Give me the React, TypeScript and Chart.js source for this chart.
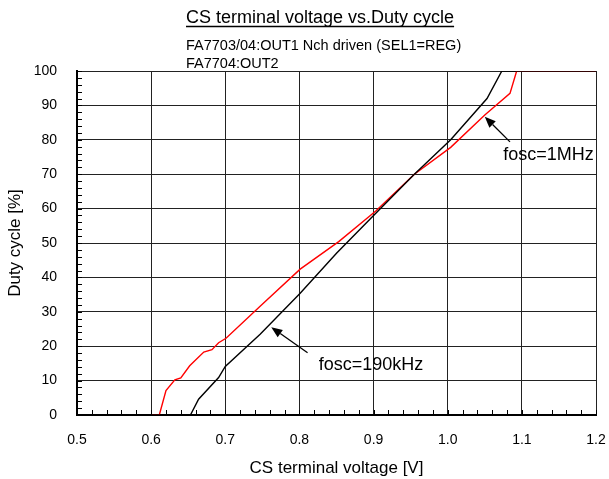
import React, { useEffect, useRef } from 'react';
import { Chart, registerables } from 'chart.js';

Chart.register(...registerables);

// ---- Data ----
const voltage1MHz = [0.6, 0.611, 0.62, 0.632, 0.64, 0.652, 0.671, 0.682, 0.691, 0.701, 0.747, 0.801, 0.853, 0.903, 0.955, 1.004, 1.05, 1.084, 1.093, 1.2];
const duty1MHz = [0, 0, 7.1, 10.2, 10.8, 14.3, 18.3, 19.0, 21.0, 22.3, 31.6, 42.4, 50.4, 59.3, 70.0, 77.8, 87.2, 93.5, 100, 100];

const voltage190kHz = [0.6, 0.653, 0.664, 0.691, 0.7, 0.747, 0.801, 0.85, 0.9, 0.955, 1.004, 1.053, 1.073, 1.2];
const duty190kHz = [0, 0, 4.6, 10.9, 14.1, 23.5, 35.4, 47.0, 58.0, 70.0, 80.0, 92.0, 100, 100];

const xTickLabels = ['0.5', '0.6', '0.7', '0.8', '0.9', '1.0', '1.1', '1.2'];
const yTickLabels = ['0', '10', '20', '30', '40', '50', '60', '70', '80', '90', '100'];

const titleText = 'CS terminal voltage vs.Duty cycle';
const subtitleLines = ['FA7703/04:OUT1 Nch driven (SEL1=REG)', 'FA7704:OUT2'];
const xAxisTitle = 'CS terminal voltage [V]';
const yAxisTitle = 'Duty cycle [%]';

// Annotations in data coordinates: label, text position, arrow tail, arrow tip
const annotLabels = ['fosc=1MHz', 'fosc=190kHz'];
const annotTextAt = [[1.075, 74.1], [0.826, 13.1]];
const annotArrowFrom = [[1.084, 79.4], [0.811, 18.1]];
const annotArrowTo = [[1.05, 86.7], [0.762, 25.5]];

const FONT = '"Liberation Sans", Arial, Helvetica, sans-serif';

export default function App() {
  const ref = useRef<HTMLCanvasElement>(null);

  useEffect(() => {
    if (!ref.current) return;

    const overlay = {
      id: 'overlay',
      afterDraw(chart: any) {
        const { ctx, chartArea } = chart;
        const xs = chart.scales.x;
        const ys = chart.scales.y;
        ctx.save();

        // inward minor/major ticks
        ctx.strokeStyle = '#000';
        ctx.lineWidth = 1;
        ctx.beginPath();
        for (let i = 0; i <= 35; i++) {
          const px = Math.round(xs.getPixelForValue(0.5 + i * 0.02)) + 0.5;
          ctx.moveTo(px, chartArea.bottom);
          ctx.lineTo(px, chartArea.bottom - 5);
        }
        for (let i = 0; i <= 50; i++) {
          const py = Math.round(ys.getPixelForValue(i * 2)) + 0.5;
          ctx.moveTo(chartArea.left, py);
          ctx.lineTo(chartArea.left + 5, py);
        }
        ctx.stroke();

        // Title + underline
        ctx.fillStyle = '#000';
        ctx.textAlign = 'left';
        ctx.textBaseline = 'alphabetic';
        ctx.font = `18px ${FONT}`;
        ctx.fillText(titleText, 186, 22.5);
        const tw = ctx.measureText(titleText).width;
        ctx.lineWidth = 1.5;
        ctx.beginPath();
        ctx.moveTo(186, 26.5);
        ctx.lineTo(186 + tw, 26.5);
        ctx.stroke();

        ctx.font = `14.5px ${FONT}`;
        ctx.fillText(subtitleLines[0], 186, 49.5);
        ctx.fillText(subtitleLines[1], 186, 68);

        // Annotations
        ctx.font = `18px ${FONT}`;
        for (let i = 0; i < annotLabels.length; i++) {
          const tx = xs.getPixelForValue(annotTextAt[i][0]);
          const ty = ys.getPixelForValue(annotTextAt[i][1]);
          ctx.fillText(annotLabels[i], tx, ty);

          const x0 = xs.getPixelForValue(annotArrowFrom[i][0]);
          const y0 = ys.getPixelForValue(annotArrowFrom[i][1]);
          const x1 = xs.getPixelForValue(annotArrowTo[i][0]);
          const y1 = ys.getPixelForValue(annotArrowTo[i][1]);
          const ang = Math.atan2(y1 - y0, x1 - x0);
          const hl = 11, hw = 4.5;
          const bx = x1 - hl * Math.cos(ang);
          const by = y1 - hl * Math.sin(ang);
          ctx.lineWidth = 1.3;
          ctx.beginPath();
          ctx.moveTo(x0, y0);
          ctx.lineTo(bx, by);
          ctx.stroke();
          ctx.beginPath();
          ctx.moveTo(x1, y1);
          ctx.lineTo(bx + hw * Math.sin(ang), by - hw * Math.cos(ang));
          ctx.lineTo(bx - hw * Math.sin(ang), by + hw * Math.cos(ang));
          ctx.closePath();
          ctx.fill();
        }
        ctx.restore();
      },
    };

    const chart = new Chart(ref.current, {
      type: 'line',
      data: {
        datasets: [
          {
            label: 'fosc=190kHz',
            data: voltage190kHz.map((v, i) => ({ x: v, y: duty190kHz[i] })),
            borderColor: '#000000',
            borderWidth: 1.4,
            pointRadius: 0,
            tension: 0,
            fill: false,
          },
          {
            label: 'fosc=1MHz',
            data: voltage1MHz.map((v, i) => ({ x: v, y: duty1MHz[i] })),
            borderColor: '#ff0000',
            borderWidth: 1.4,
            pointRadius: 0,
            tension: 0,
            fill: false,
          },
        ],
      },
      options: {
        animation: false,
        responsive: false,
        maintainAspectRatio: false,
        layout: { padding: { top: 71, right: 13, left: 0, bottom: 0 } },
        plugins: {
          legend: { display: false },
          title: { display: false },
          tooltip: { enabled: false },
        },
        scales: {
          x: {
            type: 'linear',
            min: 0.5,
            max: 1.2,
            afterFit: (s: any) => { s.height = 64; s.paddingLeft = 0; s.paddingRight = 0; },
            ticks: {
              stepSize: 0.1,
              color: '#000',
              font: { family: FONT, size: 14 },
              padding: 17,
              maxRotation: 0,
              autoSkip: false,
              callback: (_v: any, i: number) => xTickLabels[i],
            },
            grid: { color: '#222', lineWidth: 1, drawTicks: false, tickLength: 0 },
            border: { display: true, color: '#000', width: 2 },
            title: {
              display: true,
              text: xAxisTitle,
              color: '#000',
              font: { family: FONT, size: 17 },
              padding: { top: 2, bottom: 0 },
            },
          },
          y: {
            type: 'linear',
            min: 0,
            max: 100,
            afterFit: (s: any) => { s.width = 77; s.paddingTop = 0; s.paddingBottom = 0; },
            ticks: {
              stepSize: 10,
              color: '#000',
              font: { family: FONT, size: 14 },
              padding: 20,
              autoSkip: false,
              callback: (_v: any, i: number) => yTickLabels[i],
            },
            grid: { color: '#222', lineWidth: 1, drawTicks: false, tickLength: 0 },
            border: { display: true, color: '#000', width: 2 },
            title: {
              display: true,
              text: yAxisTitle,
              color: '#000',
              font: { family: FONT, size: 17 },
              padding: { top: 5, bottom: 0 },
            },
          },
        },
      },
      plugins: [overlay],
    });

    return () => chart.destroy();
  }, []);

  return (
    <div style={{ position: 'absolute', left: 0, top: 0, width: 609, height: 479, background: '#fff' }}>
      <canvas ref={ref} width={609} height={479} style={{ width: 609, height: 479, display: 'block' }} />
    </div>
  );
}
